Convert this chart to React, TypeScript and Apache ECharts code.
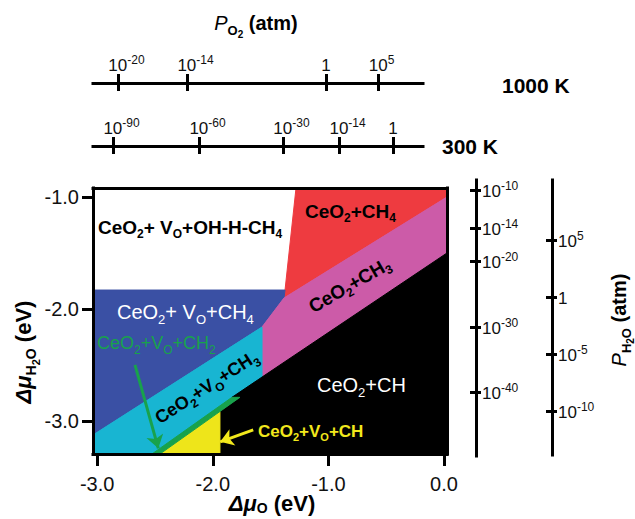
import React, { useEffect, useRef } from 'react';
import * as echarts from 'echarts';

const FONT = '"Liberation Sans", Arial, Helvetica, sans-serif';

// ---- main axes: Δμ_O (x) and Δμ_H2O (y), eV
const MU_O_EXTENT = [-3.036, 0.026];
const MU_H2O_EXTENT = [-3.292, -0.917];
const MU_O_TICKS = [-3, -2, -1, 0];
const MU_H2O_TICKS = [-3, -2, -1];

// ---- phase regions, vertices [Δμ_O, Δμ_H2O]
const REGION_VO_OH_H_CH4 = [[-3.036, -0.917], [-1.28, -0.917], [-1.375, -1.828], [-3.036, -1.828]];
const REGION_CH4 = [[-1.28, -0.917], [0.026, -0.917], [0.026, -0.997], [-1.384, -1.899], [-1.375, -1.828]];
const REGION_VO_CH4 = [[-3.036, -1.828], [-1.375, -1.828], [-1.384, -1.899], [-1.574, -2.158], [-3.036, -3.122]];
const REGION_CH3 = [[-1.384, -1.899], [0.026, -0.997], [0.026, -1.497], [-1.574, -2.605], [-1.574, -2.158]];
const REGION_VO_CH3 = [[-3.036, -3.122], [-1.574, -2.158], [-1.574, -2.605], [-2.526, -3.292], [-3.036, -3.292]];
const REGION_VO_CH2 = [[-2.526, -3.292], [-1.834, -2.786], [-1.765, -2.786], [-2.457, -3.292]];
const REGION_VO_CH = [[-2.457, -3.292], [-1.938, -2.913], [-1.938, -3.292]];
const REGION_CH = [[-1.574, -2.605], [0.026, -1.497], [0.026, -3.292], [-1.938, -3.292], [-1.938, -2.913], [-1.765, -2.786], [-1.834, -2.786]];

const REGION_COLORS = {
  white: '#ffffff', red: '#ee3b40', blue: '#3a50a4', pink: '#cc5ba8',
  cyan: '#18b5d2', green: '#18a24c', yellow: '#eee51a', black: '#000000',
};

// ---- annotation arrows [Δμ_O, Δμ_H2O]
const ARROW_CH2 = [[-2.673, -2.497], [-2.471, -3.241]];
const ARROW_CH = [[-1.65, -3.077], [-1.936, -3.183]];

// ---- top P_O2 scales (positions given as Δμ_O)
const TOP_EXTENT = [-3.036, -0.182];
const PO2_1000K_EXP = [-20, -14, 0, 5];
const PO2_1000K_MU = [-2.82, -2.223, -1.021, -0.571];
const PO2_300K_EXP = [-90, -60, -30, -14, 0];
const PO2_300K_MU = [-2.863, -2.119, -1.393, -0.908, -0.441];

// ---- right P_H2O scales
const PH2O_A_EXTENT = [-3.31, -0.846]; // as Δμ_H2O
const PH2O_A_EXP = [-10, -14, -20, -30, -40];
const PH2O_A_MU = [-0.935, -1.274, -1.569, -2.158, -2.738];
const PH2O_B_EXTENT = [-13.86, 10.26]; // log10 P
const PH2O_B_EXP = [5, 0, -5, -10];

const SUP_DIGIT = 6.7;
const SUP_MINUS = 4;
const supWidth = (e: number) => {
  let w = 0;
  for (const c of String(e)) w += c === '-' ? SUP_MINUS : SUP_DIGIT;
  return Math.round(w);
};
const powRich = (exps: number[], centered: boolean) => {
  const rich: any = {
    b: { fontSize: 17, fontFamily: FONT, color: '#111', lineHeight: 20, verticalAlign: 'top', padding: [3, 0, 0, 0] },
    s: { fontSize: 12, fontFamily: FONT, color: '#111', lineHeight: 13, verticalAlign: 'top' },
  };
  if (centered) exps.forEach((e) => {
    if (e !== 0) rich['p' + supWidth(e)] = { width: supWidth(e), fontSize: 12, lineHeight: 13, verticalAlign: 'top' };
  });
  return rich;
};
const powText = (e: number, centered: boolean) =>
  e === 0 ? '{b|1}' : (centered ? `{p${supWidth(e)}|\u00a0}` : '') + `{b|10}{s|${e}}`;
const nearest = (arr: number[], v: number) => {
  let bi = 0;
  arr.forEach((a, i) => { if (Math.abs(a - v) < Math.abs(arr[bi] - v)) bi = i; });
  return bi;
};

const lineStyle = { color: '#000', width: 3, cap: 'square' };
const tickStyle = { color: '#000', width: 3 };

const hiddenAxis = (gridIndex: number) => ({ type: 'value', gridIndex, show: false, min: 0, max: 1 });

const polySeries = (name: string, pts: number[][], color: string) => ({
  type: 'custom', name, xAxisIndex: 0, yAxisIndex: 0, data: pts, z: 2, silent: true, clip: true,
  renderItem: (params: any, api: any) => {
    if (params.dataIndex !== 0) return null;
    const points = pts.map((p) => api.coord(p));
    return { type: 'polygon', shape: { points }, style: { fill: color, stroke: color, lineWidth: 1 } };
  },
});

const rs = (fs: number, color: string, weight: string = 'bold', subPad = 0.55) => {
  const sfs = Math.round(fs * 0.65);
  const base = { fontFamily: FONT, fontWeight: weight, color, fill: color };
  return {
    t: { ...base, fontSize: fs, lineHeight: fs + 2, verticalAlign: 'top' },
    i: { ...base, fontSize: fs, lineHeight: fs + 2, verticalAlign: 'top', fontStyle: 'italic' },
    in: { ...base, fontWeight: 'normal', fontSize: fs, lineHeight: fs + 2, verticalAlign: 'top', fontStyle: 'italic' },
    s: { ...base, fontSize: sfs, lineHeight: sfs + 1, verticalAlign: 'top', padding: [Math.round(fs * subPad), 0, 0, 0] },
    ss: { ...base, fontSize: Math.round(fs * 0.5), lineHeight: Math.round(fs * 0.5) + 1, verticalAlign: 'top', padding: [Math.round(fs * (subPad + 0.25)), 0, 0, 0] },
  };
};

const textEl = (text: string, x: number, y: number, fs: number, color: string, opts: any = {}) => ({
  type: 'text', x, y, z: 100, silent: true, rotation: opts.rotation || 0,
  style: {
    text, rich: rs(fs, color, opts.weight || 'bold', opts.subPad || 0.55),
    align: opts.align || 'left', verticalAlign: 'middle',
    textAlign: opts.align || 'left', textVerticalAlign: 'middle',
    fill: color, fontFamily: FONT, fontSize: fs,
  },
});

export default function App() {
  const ref = useRef<HTMLDivElement>(null);
  useEffect(() => {
    if (!ref.current) return;
    const chart = echarts.init(ref.current, null, { renderer: 'svg' });
    const deg = Math.PI / 180;
    const option: any = {
      animation: false,
      textStyle: { fontFamily: FONT },
      grid: [
        { left: 93, top: 188, width: 354, height: 266, outerBoundsMode: 'none' },
        { left: 93, top: 83, width: 330, height: 1, outerBoundsMode: 'none' },
        { left: 93, top: 146, width: 330, height: 1, outerBoundsMode: 'none' },
        { left: 476, top: 180, width: 1, height: 276, outerBoundsMode: 'none' },
        { left: 552, top: 180, width: 1, height: 275, outerBoundsMode: 'none' },
      ],
      xAxis: [
        {
          type: 'value', gridIndex: 0, position: 'bottom', min: MU_O_EXTENT[0], max: MU_O_EXTENT[1], z: 10,
          axisLine: { show: true, onZero: false, lineStyle },
          axisTick: { show: true, inside: false, length: 12, lineStyle: tickStyle, customValues: MU_O_TICKS },
          axisLabel: { show: true, margin: 20, fontSize: 20, color: '#111', fontFamily: FONT, customValues: MU_O_TICKS, formatter: (v: number) => v.toFixed(1) },
          splitLine: { show: false },
        },
        {
          type: 'value', gridIndex: 0, position: 'top', min: MU_O_EXTENT[0], max: MU_O_EXTENT[1], z: 10,
          axisLine: { show: true, onZero: false, lineStyle }, axisTick: { show: false }, axisLabel: { show: false }, splitLine: { show: false },
        },
        {
          type: 'value', gridIndex: 1, position: 'top', min: TOP_EXTENT[0], max: TOP_EXTENT[1], z: 10,
          axisLine: { show: true, onZero: false, lineStyle },
          axisTick: { show: true, inside: false, length: 9, lineStyle: tickStyle, customValues: PO2_1000K_MU },
          axisLabel: {
            show: true, margin: 9, customValues: PO2_1000K_MU, rich: powRich(PO2_1000K_EXP, true),
            formatter: (v: number) => powText(PO2_1000K_EXP[nearest(PO2_1000K_MU, v)], true),
          },
          splitLine: { show: false },
        },
        {
          type: 'value', gridIndex: 1, position: 'bottom', min: TOP_EXTENT[0], max: TOP_EXTENT[1], z: 10,
          axisLine: { show: false, onZero: false },
          axisTick: { show: true, inside: false, length: 7, lineStyle: tickStyle, customValues: PO2_1000K_MU },
          axisLabel: { show: false }, splitLine: { show: false },
        },
        {
          type: 'value', gridIndex: 2, position: 'top', min: TOP_EXTENT[0], max: TOP_EXTENT[1], z: 10,
          axisLine: { show: true, onZero: false, lineStyle },
          axisTick: { show: true, inside: false, length: 9, lineStyle: tickStyle, customValues: PO2_300K_MU },
          axisLabel: {
            show: true, margin: 9, customValues: PO2_300K_MU, rich: powRich(PO2_300K_EXP, true),
            formatter: (v: number) => powText(PO2_300K_EXP[nearest(PO2_300K_MU, v)], true),
          },
          splitLine: { show: false },
        },
        {
          type: 'value', gridIndex: 2, position: 'bottom', min: TOP_EXTENT[0], max: TOP_EXTENT[1], z: 10,
          axisLine: { show: false, onZero: false },
          axisTick: { show: true, inside: false, length: 7, lineStyle: tickStyle, customValues: PO2_300K_MU },
          axisLabel: { show: false }, splitLine: { show: false },
        },
        hiddenAxis(3),
        hiddenAxis(4),
      ],
      yAxis: [
        {
          type: 'value', gridIndex: 0, position: 'left', min: MU_H2O_EXTENT[0], max: MU_H2O_EXTENT[1], z: 10,
          axisLine: { show: true, onZero: false, lineStyle },
          axisTick: { show: true, inside: false, length: 11, lineStyle: tickStyle, customValues: MU_H2O_TICKS },
          axisLabel: { show: true, margin: 14, fontSize: 20, color: '#111', fontFamily: FONT, customValues: MU_H2O_TICKS, formatter: (v: number) => v.toFixed(1) },
          splitLine: { show: false },
        },
        {
          type: 'value', gridIndex: 0, position: 'right', min: MU_H2O_EXTENT[0], max: MU_H2O_EXTENT[1], z: 10,
          axisLine: { show: true, onZero: false, lineStyle }, axisTick: { show: false }, axisLabel: { show: false }, splitLine: { show: false },
        },
        hiddenAxis(1),
        hiddenAxis(2),
        {
          type: 'value', gridIndex: 3, position: 'left', min: PH2O_A_EXTENT[0], max: PH2O_A_EXTENT[1], z: 10,
          axisLine: { show: true, onZero: false, lineStyle },
          axisTick: { show: true, inside: false, length: 6, lineStyle: tickStyle, customValues: PH2O_A_MU },
          axisLabel: { show: false }, splitLine: { show: false },
        },
        {
          type: 'value', gridIndex: 3, position: 'right', min: PH2O_A_EXTENT[0], max: PH2O_A_EXTENT[1], z: 10,
          axisLine: { show: false, onZero: false },
          axisTick: { show: true, inside: false, length: 4, lineStyle: tickStyle, customValues: PH2O_A_MU },
          axisLabel: {
            show: true, margin: 5, customValues: PH2O_A_MU, rich: powRich(PH2O_A_EXP, false),
            formatter: (v: number) => powText(PH2O_A_EXP[nearest(PH2O_A_MU, v)], false),
          },
          splitLine: { show: false },
        },
        {
          type: 'value', gridIndex: 4, position: 'left', min: PH2O_B_EXTENT[0], max: PH2O_B_EXTENT[1], z: 10,
          axisLine: { show: true, onZero: false, lineStyle },
          axisTick: { show: true, inside: false, length: 6, lineStyle: tickStyle, customValues: PH2O_B_EXP },
          axisLabel: { show: false }, splitLine: { show: false },
        },
        {
          type: 'value', gridIndex: 4, position: 'right', min: PH2O_B_EXTENT[0], max: PH2O_B_EXTENT[1], z: 10,
          axisLine: { show: false, onZero: false },
          axisTick: { show: true, inside: false, length: 4, lineStyle: tickStyle, customValues: PH2O_B_EXP },
          axisLabel: {
            show: true, margin: 5, customValues: PH2O_B_EXP, rich: powRich(PH2O_B_EXP, false),
            formatter: (v: number) => powText(PH2O_B_EXP[nearest(PH2O_B_EXP, v)], false),
          },
          splitLine: { show: false },
        },
      ],
      series: [
        polySeries('CeO2+VO+OH-H-CH4', REGION_VO_OH_H_CH4, REGION_COLORS.white),
        polySeries('CeO2+CH4', REGION_CH4, REGION_COLORS.red),
        polySeries('CeO2+VO+CH4', REGION_VO_CH4, REGION_COLORS.blue),
        polySeries('CeO2+CH3', REGION_CH3, REGION_COLORS.pink),
        polySeries('CeO2+VO+CH3', REGION_VO_CH3, REGION_COLORS.cyan),
        polySeries('CeO2+CH', REGION_CH, REGION_COLORS.black),
        polySeries('CeO2+VO+CH', REGION_VO_CH, REGION_COLORS.yellow),
        polySeries('CeO2+VO+CH2', REGION_VO_CH2, REGION_COLORS.green),
        {
          type: 'lines', coordinateSystem: 'cartesian2d', xAxisIndex: 0, yAxisIndex: 0, z: 5, silent: true,
          symbol: ['none', 'arrow'], symbolSize: [11, 13],
          lineStyle: { color: REGION_COLORS.green, width: 3, opacity: 1 },
          data: [{ coords: ARROW_CH2 }],
        },
        {
          type: 'lines', coordinateSystem: 'cartesian2d', xAxisIndex: 0, yAxisIndex: 0, z: 5, silent: true,
          symbol: ['none', 'arrow'], symbolSize: [11, 13],
          lineStyle: { color: '#f2e81c', width: 3, opacity: 1 },
          data: [{ coords: ARROW_CH }],
        },
      ],
      graphic: [
        textEl('{t|CeO}{s|2}{t|+ V}{s|O}{t|+OH-H-CH}{s|4}', 98, 228, 19, '#000'),
        textEl('{t|CeO}{s|2}{t|+CH}{s|4}', 305, 212, 19, '#000'),
        textEl('{t|CeO}{s|2}{t|+ V}{s|O}{t|+CH}{s|4}', 117, 313, 20, '#fff', { weight: 'normal' }),
        textEl('{t|CeO}{s|2}{t|+CH}{s|3}', 350, 286, 19, '#000', { align: 'center', rotation: 30 * deg }),
        textEl('{t|CeO}{s|2}{t|+V}{s|O}{t|+CH}{s|3}', 207, 388, 18, '#000', { align: 'center', rotation: 33 * deg }),
        textEl('{t|CeO}{s|2}{t|+CH}', 317, 386, 20, '#fff', { weight: 'normal' }),
        textEl('{t|CeO}{s|2}{t|+V}{s|O}{t|+CH}', 258, 432, 17, '#f2e81c'),
        textEl('{t|CeO}{s|2}{t|+V}{s|O}{t|+CH}{s|2}', 97, 344, 18, REGION_COLORS.green, { weight: 'normal' }),
        textEl('{t|1000 K}', 502, 86, 21, '#000'),
        textEl('{t|300 K}', 442, 147, 21, '#000'),
        textEl('{in|P}{s|O}{ss|2}{t| (atm)}', 256, 24, 20, '#000', { align: 'center' }),
        textEl('{in|P}{s|H}{ss|2}{s|O}{t| (atm)}', 620, 320, 20, '#000', { align: 'center', rotation: 90 * deg }),
        textEl('{i|Δμ}{s|H}{ss|2}{s|O}{t| (eV)}', 24, 352, 22, '#000', { align: 'center', rotation: 90 * deg }),
        textEl('{i|Δμ}{s|O}{t| (eV)}', 272, 504, 22, '#000', { align: 'center', subPad: 0.4 }),
      ],
    };
    chart.setOption(option);
    return () => chart.dispose();
  }, []);
  return <div ref={ref} style={{ position: 'fixed', left: 0, top: 0, width: 635, height: 519, background: '#fff' }} />;
}
